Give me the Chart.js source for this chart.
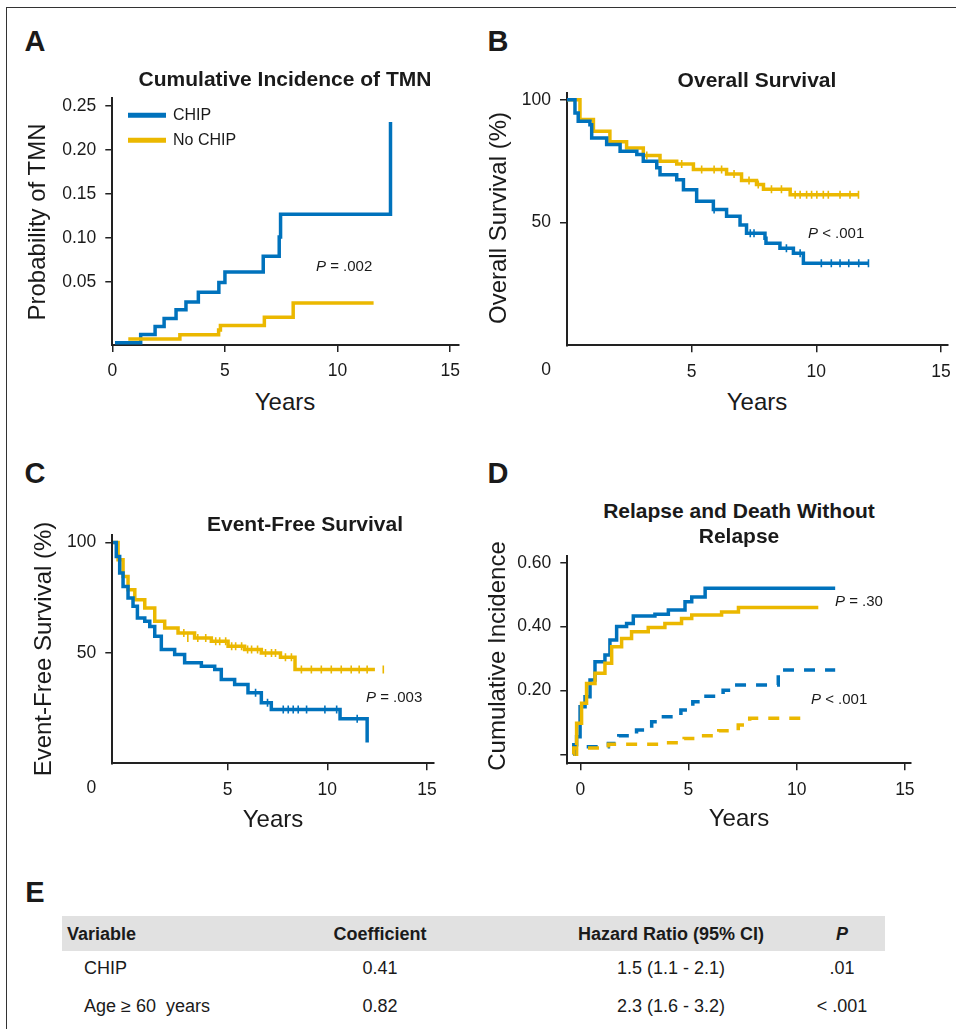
<!DOCTYPE html>
<html>
<head>
<meta charset="utf-8">
<script src="https://cdn.jsdelivr.net/npm/chart.js@4.4.1/dist/chart.umd.min.js"></script>
<style>
  body { margin: 0; background: #fff; }
  #fig { position: relative; width: 956px; height: 1029px; overflow: hidden;
         font-family: "Liberation Sans", Arial, sans-serif; color: #1a1a1a; }
  .frame { position: absolute; left: 6px; top: 7px; width: 970px; height: 1040px;
           border-top: 1.5px solid #333; border-left: 1.5px solid #333; }
  canvas { position: absolute; }
  .t { position: absolute; line-height: 1; white-space: nowrap; }
  .c { transform: translate(-50%, -50%); }
  .l { transform: translate(0, -50%); }
  .rot { transform: translate(-50%, -50%) rotate(-90deg); }
  .letter { font-weight: bold; font-size: 29px; }
  .title { font-weight: bold; font-size: 21px; }
  .axt { font-size: 24px; }
  .pv { font-size: 15px; }
  .leg { font-size: 16px; }
  .legline { position: absolute; height: 4.5px; width: 38px; transform: translate(0, -50%); }
  .band { position: absolute; left: 62px; top: 916px; width: 823px; height: 35px; background: #e1e1e1; }
  .th { font-weight: bold; font-size: 18px; }
  .td { font-size: 18px; }
</style>
</head>
<body>
<div id="fig">
  <div class="frame"></div>

  <canvas id="chartA"></canvas>
  <canvas id="chartB"></canvas>
  <canvas id="chartC"></canvas>
  <canvas id="chartD"></canvas>

  <!-- panel letters -->
  <div class="t c letter" style="left:35px;top:41px">A</div>
  <div class="t c letter" style="left:498px;top:41px">B</div>
  <div class="t c letter" style="left:35px;top:473px">C</div>
  <div class="t c letter" style="left:498px;top:473px">D</div>
  <div class="t c letter" style="left:35px;top:892px">E</div>

  <!-- titles -->
  <div class="t c title" style="left:285px;top:78px">Cumulative Incidence of TMN</div>
  <div class="t c title" style="left:757px;top:79px">Overall Survival</div>
  <div class="t c title" style="left:305px;top:523px">Event-Free Survival</div>
  <div class="t c title" style="left:739px;top:510px">Relapse and Death Without</div>
  <div class="t c title" style="left:739px;top:535px">Relapse</div>

  <!-- axis titles -->
  <div class="t rot axt" style="left:37px;top:222px">Probability of TMN</div>
  <div class="t rot axt" style="left:498px;top:218px">Overall Survival (%)</div>
  <div class="t rot axt" style="left:43px;top:649px">Event-Free Survival (%)</div>
  <div class="t rot axt" style="left:497px;top:656px">Cumulative Incidence</div>
  <div class="t c axt" style="left:285px;top:402px">Years</div>
  <div class="t c axt" style="left:757px;top:402px">Years</div>
  <div class="t c axt" style="left:273px;top:819px">Years</div>
  <div class="t c axt" style="left:739px;top:818px">Years</div>

  <!-- p values -->
  <div class="t l pv" style="left:316px;top:265px"><i>P</i> = .002</div>
  <div class="t l pv" style="left:808px;top:232px"><i>P</i> &lt; .001</div>
  <div class="t l pv" style="left:366px;top:696px"><i>P</i> = .003</div>
  <div class="t l pv" style="left:835px;top:600px"><i>P</i> = .30</div>
  <div class="t l pv" style="left:811px;top:698px"><i>P</i> &lt; .001</div>

  <!-- legend of panel A, filled from the series below -->
  <div id="legendA"></div>

  <!-- table E -->
  <div class="band"></div>
  <div id="tableE"></div>
</div>

<script>
const BLUE = '#0072bc';
const GOLD = '#ebb800';
const TEXT = '#1a1a1a';
const AXIS = '#222';

const seriesNames = ['CHIP', 'No CHIP'];
const seriesColors = [BLUE, GOLD];

// A: cumulative incidence of TMN (step points: time, value from that time on)
const tmnChipT = [0.12, 1.26, 1.9, 2.3, 2.83, 3.27, 3.82, 4.73, 5.0, 6.7, 7.41, 7.47, 12.35];
const tmnChipV = [-0.0195, -0.010, -0.001, 0.008, 0.018, 0.027, 0.038, 0.049, 0.061, 0.079, 0.101, 0.127, 0.232];
const tmnNoT = [0.71, 3.0, 4.72, 4.8, 6.75, 8.03, 11.6];
const tmnNoV = [-0.0153, -0.0103, -0.005, 0.0, 0.0094, 0.0257, 0.0257];

// B: overall survival (%)
const osChipT = [0, 0.32, 0.45, 0.92, 0.99, 1.59, 2.13, 2.8, 3.06, 3.6, 3.73, 4.4, 4.67, 5.2, 5.87, 6.4, 6.94, 7.2, 7.94, 7.98, 8.54, 9.08, 9.48, 12.09];
const osChipV = [100, 94.7, 91.3, 89.9, 84.5, 81.8, 79.1, 77.7, 75.0, 72.3, 69.5, 67.5, 63.4, 58.7, 55.3, 52.6, 49.0, 45.7, 43.6, 41.6, 39.5, 37.5, 33.4, 33.4];
const osNoT = [0, 0.52, 1.06, 1.72, 2.39, 3.06, 3.73, 4.4, 5.07, 6.4, 7.0, 7.6, 7.88, 8.95, 11.69];
const osNoV = [100, 92.0, 87.2, 82.9, 80.4, 77.3, 75.0, 73.9, 71.6, 69.8, 67.1, 65.5, 63.6, 61.3, 61.3];
const osChipCensT = [5.9, 7.35, 7.5, 8.8, 9.35, 10.2, 10.6, 10.95, 11.3, 11.7, 12.09];
const osChipCensV = [55.3, 45.7, 45.7, 39.5, 37.5, 33.4, 33.4, 33.4, 33.4, 33.4, 33.4];
const osNoCensT = [3.2, 4.6, 5.4, 5.9, 6.2, 6.7, 7.3, 7.67, 8.2, 8.6, 9.15, 9.35, 9.61, 9.81, 10.02, 10.28, 10.48, 10.95, 11.35, 11.69];
const osNoCensV = [77.3, 73.9, 71.6, 71.6, 71.6, 69.8, 67.1, 65.5, 63.6, 63.6, 61.3, 61.3, 61.3, 61.3, 61.3, 61.3, 61.3, 61.3, 61.3, 61.3];

// C: event-free survival (%)
const efsChipT = [-0.75, -0.59, -0.42, -0.25, 0.0, 0.25, 0.47, 0.84, 1.09, 1.34, 1.67, 2.34, 2.84, 3.68, 4.35, 4.68, 5.35, 6.02, 6.69, 7.19, 10.64, 12.0];
const efsChipV = [100, 93.7, 86.2, 80.1, 74.9, 71.1, 65.8, 64.3, 62.0, 57.5, 51.5, 49.3, 45.5, 44.0, 42.5, 38.0, 35.7, 31.9, 27.4, 24.4, 20.2, 9.4];
const efsNoT = [-0.75, -0.5, -0.25, 0.0, 0.34, 0.84, 1.34, 1.84, 2.51, 3.34, 4.18, 5.02, 5.85, 6.69, 7.65, 8.38, 12.39];
const efsNoV = [100, 92.2, 84.6, 78.6, 74.1, 70.3, 64.3, 61.3, 59.0, 56.8, 55.3, 53.0, 51.5, 50.0, 48.0, 42.5, 42.5];
const efsChipCensT = [6.4, 7.0, 7.79, 8.04, 8.29, 8.54, 8.96, 9.88, 10.47, 11.5];
const efsChipCensV = [31.9, 27.4, 24.4, 24.4, 24.4, 24.4, 24.4, 24.4, 24.4, 20.2];
const efsNoCensT = [2.8, 3.0, 3.5, 3.9, 4.4, 4.6, 4.9, 5.2, 5.4, 5.7, 6.0, 6.2, 6.5, 6.9, 7.2, 7.4, 7.9, 8.2, 8.7, 9.2, 9.7, 10.2, 10.7, 11.2, 11.6, 12.0, 12.81];
const efsNoCensV = [59.0, 56.8, 56.8, 56.8, 55.3, 55.3, 55.3, 53.0, 53.0, 53.0, 51.5, 51.5, 51.5, 50.0, 50.0, 50.0, 48.0, 48.0, 42.5, 42.5, 42.5, 42.5, 42.5, 42.5, 42.5, 42.5, 42.5];

// D: relapse (solid) and death without relapse (dashed), cumulative incidence
const relChipT = [-0.32, -0.3, -0.17, -0.01, 0.22, 0.45, 0.68, 1.14, 1.37, 1.68, 2.14, 2.45, 3.45, 4.07, 4.84, 5.15, 5.77, 11.78];
const relChipV = [0, 0.03, 0.055, 0.149, 0.18, 0.233, 0.29, 0.311, 0.358, 0.40, 0.41, 0.433, 0.439, 0.452, 0.478, 0.493, 0.52, 0.52];
const relNoT = [-0.32, -0.17, 0.06, 0.29, 0.68, 1.14, 1.45, 1.91, 2.37, 3.14, 3.91, 4.68, 5.15, 6.53, 7.31, 11.0];
const relNoV = [0, 0.097, 0.16, 0.222, 0.254, 0.285, 0.337, 0.363, 0.384, 0.397, 0.41, 0.425, 0.436, 0.446, 0.46, 0.46];
const nrmChipT = [-0.32, -0.3, 1.3, 1.78, 2.6, 3.3, 3.7, 4.65, 5.2, 5.7, 6.6, 7.0, 9.15, 11.78];
const nrmChipV = [0, 0.024, 0.034, 0.058, 0.076, 0.102, 0.118, 0.139, 0.165, 0.182, 0.201, 0.217, 0.264, 0.264];
const nrmNoT = [-0.32, -0.3, 1.3, 4.0, 4.8, 5.7, 6.4, 7.3, 7.83, 10.3];
const nrmNoV = [0, 0.02, 0.032, 0.036, 0.05, 0.058, 0.074, 0.092, 0.113, 0.113];

// tick labels
const xTicksA = [0, 5, 10, 15];
const yTicksA = [0.05, 0.10, 0.15, 0.20, 0.25];
const xTicksSurv = [5, 10, 15];
const yTicksSurv = [50, 100];
const xTicksD = [0, 5, 10, 15];
const yTicksD = [0, 0.20, 0.40, 0.60];

// table E
const tableCols = ['Variable', 'Coefficient', 'Hazard Ratio (95% CI)', 'P'];
const tableVars = ['CHIP', 'Age \u2265 60\u00a0 years'];
const tableCoef = ['0.41', '0.82'];
const tableHR = ['1.5 (1.1 - 2.1)', '2.3 (1.6 - 3.2)'];
const tableP = ['.01', '< .001'];

Chart.defaults.font.family = '"Liberation Sans", Arial, sans-serif';
Chart.defaults.font.size = 17.5;
Chart.defaults.color = TEXT;

function pts(ts, vs) {
  return ts.map((t, i) => ({ x: t, y: vs[i] }));
}

function stepSet(ts, vs, color, dashed) {
  return {
    data: pts(ts, vs), borderColor: color, backgroundColor: color,
    borderWidth: 3.5, stepped: true, pointRadius: 0, fill: false,
    borderDash: dashed ? [11, 10] : [], borderCapStyle: 'butt'
  };
}

function censSet(ts, vs, color) {
  return {
    data: pts(ts, vs), showLine: false, borderColor: color, backgroundColor: color,
    pointStyle: 'line', rotation: 90, pointRadius: 4, pointBorderWidth: 1.6
  };
}

// the "0" at the origin, left of the y axis (panels B and C)
const originZero = {
  id: 'originZero',
  afterDraw(chart) {
    const { ctx, chartArea } = chart;
    const x = chart.scales.x;
    ctx.save();
    ctx.font = '17.5px "Liberation Sans", Arial, sans-serif';
    ctx.fillStyle = TEXT;
    ctx.textAlign = 'center';
    ctx.textBaseline = 'top';
    ctx.fillText('0', chartArea.left - 21, x.top + 7 + 9);
    ctx.restore();
  }
};

function axisOpts(range, ticks, fmt, isX, fixed) {
  return {
    type: 'linear', min: range[0], max: range[1],
    afterBuildTicks: s => { s.ticks = ticks.map(v => ({ value: v })); },
    afterFit: s => {
      if (isX) { s.height = fixed; s.paddingLeft = 0; s.paddingRight = 0; }
      else { s.width = fixed; s.paddingTop = 0; s.paddingBottom = 0; }
    },
    ticks: { callback: fmt, padding: 9, maxRotation: 0, autoSkip: false, color: TEXT },
    grid: { display: true, drawOnChartArea: false, drawTicks: true, tickLength: 7, color: AXIS, lineWidth: 1.5 },
    border: { display: true, color: AXIS, width: 2 }
  };
}

function drawPanel(id, box, area, o) {
  const cv = document.getElementById(id);
  cv.width = box.w;
  cv.height = box.h;
  cv.style.left = box.x + 'px';
  cv.style.top = box.y + 'px';
  new Chart(cv, {
    type: 'line',
    data: { datasets: o.datasets },
    options: {
      responsive: false, animation: false, events: [],
      layout: { padding: { left: 0, top: area.t - box.y, right: box.x + box.w - area.r, bottom: 0 } },
      plugins: { legend: { display: false }, tooltip: { enabled: false } },
      scales: {
        x: axisOpts(o.xRange, o.xTicks, v => String(v), true, box.y + box.h - area.b),
        y: axisOpts(o.yRange, o.yTicks, o.yFmt, false, area.l - box.x)
      }
    },
    plugins: o.origin ? [originZero] : []
  });
}

drawPanel('chartA', { x: 40, y: 85, w: 430, h: 300 }, { l: 112.3, t: 98.3, r: 458.3, b: 345 }, {
  xRange: [0, 15.36], yRange: [-0.0221, 0.259], xTicks: xTicksA, yTicks: yTicksA,
  yFmt: v => v.toFixed(2),
  datasets: [
    stepSet(tmnNoT, tmnNoV, GOLD),
    stepSet(tmnChipT, tmnChipV, BLUE)
  ]
});

drawPanel('chartB', { x: 500, y: 85, w: 456, h: 300 }, { l: 567, t: 93, r: 948, b: 345.3 }, {
  xRange: [0, 15.28], yRange: [0, 102.8], xTicks: xTicksSurv, yTicks: yTicksSurv,
  yFmt: v => String(v), origin: true,
  datasets: [
    stepSet(osChipT, osChipV, BLUE), censSet(osChipCensT, osChipCensV, BLUE),
    stepSet(osNoT, osNoV, GOLD), censSet(osNoCensT, osNoCensV, GOLD)
  ]
});

drawPanel('chartC', { x: 40, y: 525, w: 420, h: 290 }, { l: 112.3, t: 535, r: 433.3, b: 763.3 }, {
  xRange: [-0.79, 15.32], yRange: [0, 103.4], xTicks: xTicksSurv, yTicks: yTicksSurv,
  yFmt: v => String(v), origin: true,
  datasets: [
    stepSet(efsChipT, efsChipV, BLUE), censSet(efsChipCensT, efsChipCensV, BLUE),
    stepSet(efsNoT, efsNoV, GOLD), censSet(efsNoCensT, efsNoCensV, GOLD)
  ]
});

drawPanel('chartD', { x: 500, y: 545, w: 440, h: 270 }, { l: 567.3, t: 556, r: 910.7, b: 763.3 }, {
  xRange: [-0.6, 15.27], yRange: [-0.028, 0.621], xTicks: xTicksD, yTicks: yTicksD,
  yFmt: v => v === 0 ? '' : v.toFixed(2),
  datasets: [
    stepSet(nrmNoT, nrmNoV, GOLD, true),
    stepSet(nrmChipT, nrmChipV, BLUE, true),
    stepSet(relNoT, relNoV, GOLD),
    stepSet(relChipT, relChipV, BLUE)
  ]
});

// legend for panel A
const legend = document.getElementById('legendA');
seriesNames.forEach((name, i) => {
  const y = 115 + i * 25;
  legend.insertAdjacentHTML('beforeend',
    `<div class="legline" style="left:128px;top:${y}px;background:${seriesColors[i]}"></div>` +
    `<div class="t l leg" style="left:173px;top:${y}px">${name}</div>`);
});

// table E
const colX = [67, 380, 671, 842];
const tbl = document.getElementById('tableE');
tableCols.forEach((h, i) => {
  const cls = i === 0 ? 't l th' : 't c th';
  const txt = h === 'P' ? '<i>P</i>' : h;
  tbl.insertAdjacentHTML('beforeend', `<div class="${cls}" style="left:${colX[i]}px;top:934px">${txt}</div>`);
});
tableVars.forEach((v, r) => {
  const y = 968 + r * 38;
  const cells = [v, tableCoef[r], tableHR[r], tableP[r]];
  cells.forEach((c, i) => {
    const cls = i === 0 ? 't l td' : 't c td';
    const x = i === 0 ? 84 : colX[i];
    const txt = c.replace('<', '&lt;');
    tbl.insertAdjacentHTML('beforeend', `<div class="${cls}" style="left:${x}px;top:${y}px">${txt}</div>`);
  });
});
</script>
</body>
</html>
